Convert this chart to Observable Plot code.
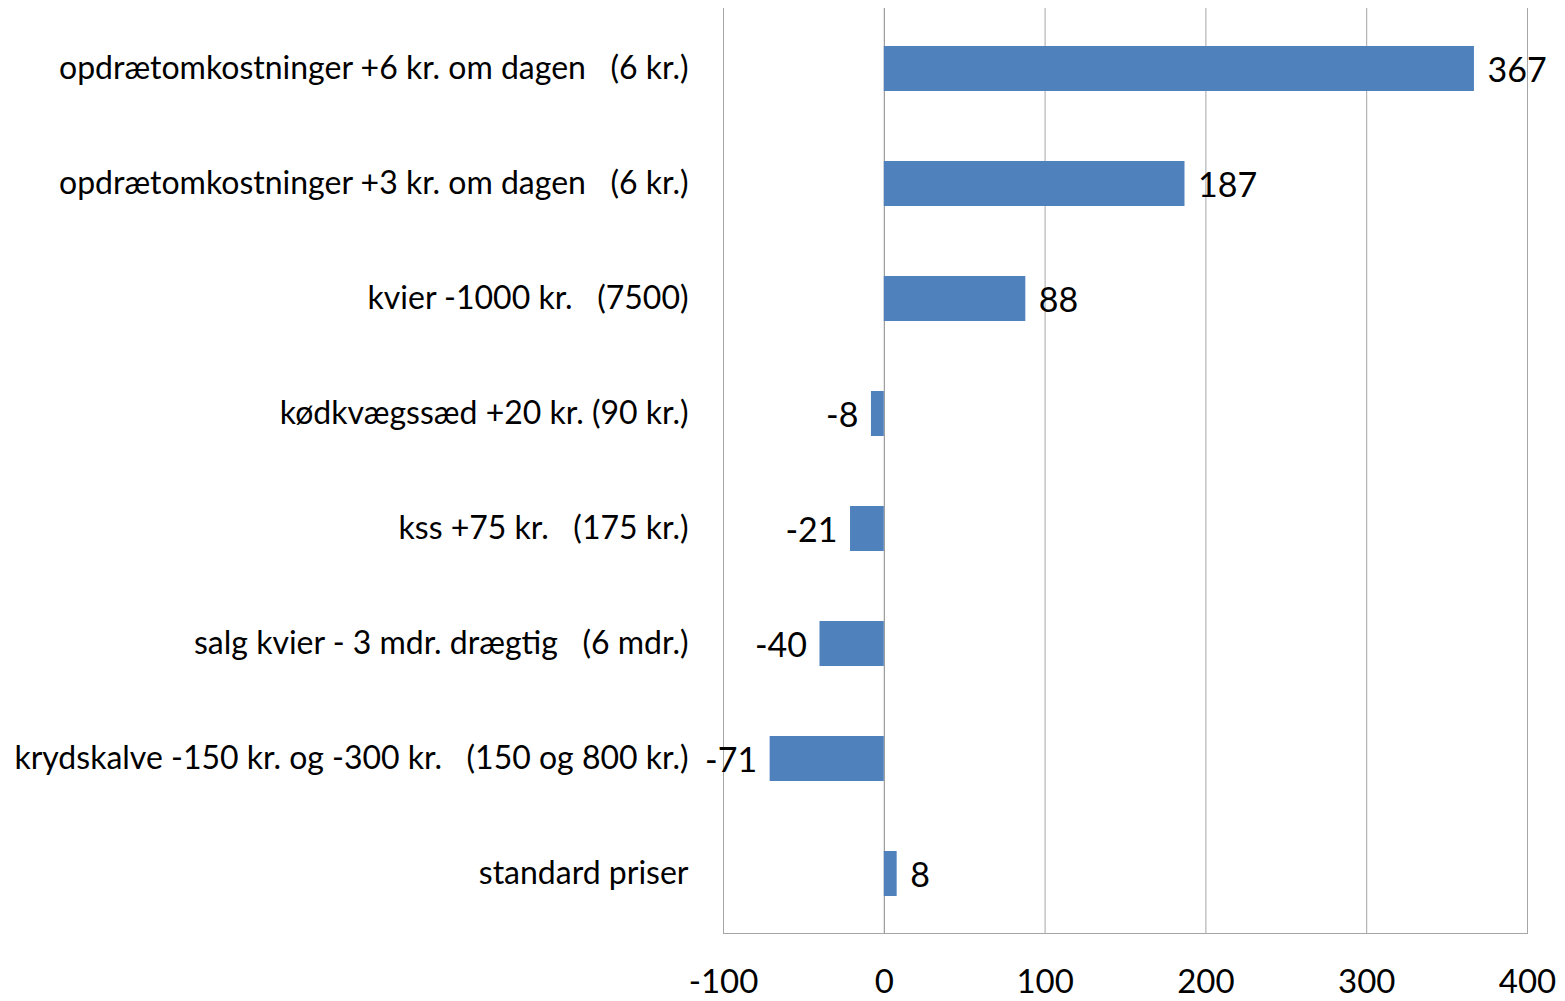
<!DOCTYPE html>
<html><head><meta charset="utf-8">
<script src="https://cdn.jsdelivr.net/npm/d3@7"></script>
<script src="https://cdn.jsdelivr.net/npm/@observablehq/plot@0.6"></script>
<style>
html,body{margin:0;padding:0;background:#fff;}
svg text{white-space:pre;}
</style>
</head><body>
<div id="chart"></div>
<script>
const categories = [
  "opdrætomkostninger +6 kr. om dagen   (6 kr.)",
  "opdrætomkostninger +3 kr. om dagen   (6 kr.)",
  "kvier -1000 kr.   (7500)",
  "kødkvægssæd +20 kr. (90 kr.)",
  "kss +75 kr.   (175 kr.)",
  "salg kvier - 3 mdr. drægtig   (6 mdr.)",
  "krydskalve -150 kr. og -300 kr.   (150 og 800 kr.)",
  "standard priser"
];
const values = [367, 187, 88, -8, -21, -40, -71, 8];
const xTicks = [-100, 0, 100, 200, 300, 400];

const data = categories.map((c, i) => ({category: c, value: values[i]}));

const chart = Plot.plot({
  width: 1565,
  height: 1001,
  marginLeft: 723,
  marginRight: 38,
  marginTop: 8,
  marginBottom: 68,
  style: {fontFamily: "Lato, 'Open Sans', sans-serif", background: "#fff", color: "#000"},
  x: {domain: [-100, 400], ticks: xTicks, tickFormat: d => String(d)},
  y: {domain: categories, paddingInner: 0.61, paddingOuter: 0.305},
  marks: [
    Plot.ruleX(xTicks.filter(d => d !== 0), {stroke: "#a6a6a6", strokeOpacity: 1, strokeWidth: 1}),
    Plot.ruleX([0], {stroke: "#868686", strokeOpacity: 1, strokeWidth: 1}),
    Plot.frame({anchor: "bottom", stroke: "#a6a6a6"}),
    Plot.barX(data, {x: "value", y: "category", fill: "#4F81BD"}),
    Plot.text(data.filter(d => d.value >= 0), {x: "value", y: "category", text: d => String(d.value), textAnchor: "start", dx: 13, dy: 2, fontSize: 34, fill: "#000"}),
    Plot.text(data.filter(d => d.value < 0), {x: "value", y: "category", text: d => String(d.value), textAnchor: "end", dx: -13, dy: 2, fontSize: 34, fill: "#000"}),
    Plot.axisY({tickSize: 0, tickPadding: 35, fontSize: 32, label: null}),
    Plot.axisX({ticks: xTicks, tickFormat: d => String(d), tickSize: 0, tickPadding: 36, fontSize: 33, label: null})
  ]
});
document.getElementById("chart").appendChild(chart);
</script>
</body></html>
